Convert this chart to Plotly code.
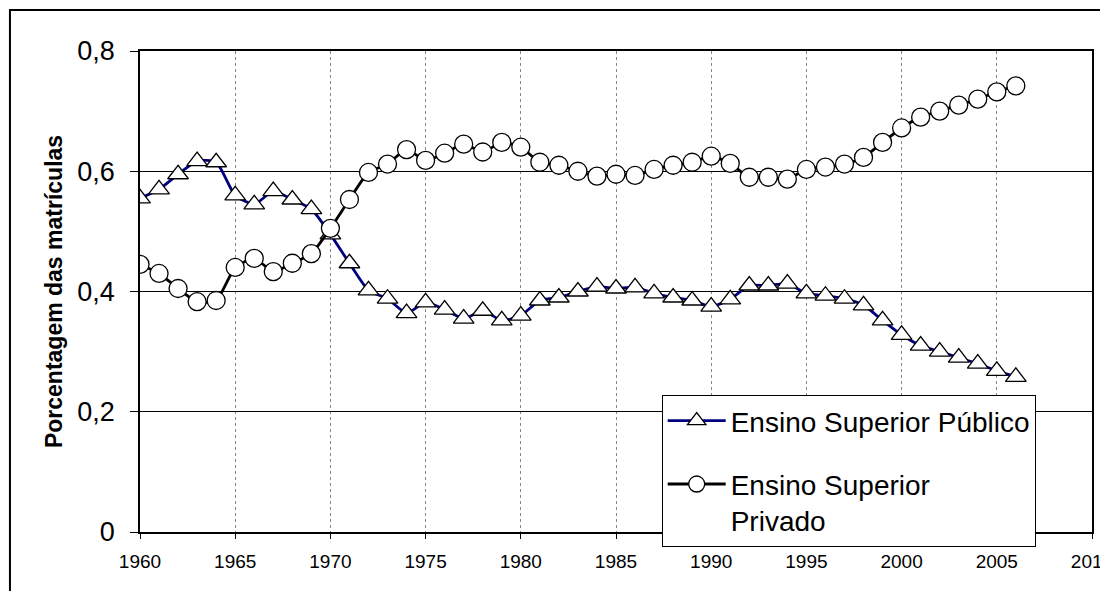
import plotly.graph_objects as go

years = list(range(1960, 2007))
publico = [0.555, 0.570, 0.595, 0.617, 0.615, 0.560, 0.545, 0.567, 0.553, 0.537,
           0.495, 0.447, 0.402, 0.388, 0.364, 0.382, 0.370, 0.355, 0.368, 0.352,
           0.360, 0.385, 0.390, 0.400, 0.408, 0.405, 0.407, 0.397, 0.390, 0.385,
           0.375, 0.387, 0.410, 0.410, 0.413, 0.397, 0.393, 0.388, 0.377, 0.352,
           0.328, 0.310, 0.300, 0.290, 0.280, 0.268, 0.258]
privado = [0.445, 0.430, 0.405, 0.383, 0.385, 0.440, 0.455, 0.433, 0.447, 0.463,
           0.505, 0.553, 0.598, 0.612, 0.636, 0.618, 0.630, 0.645, 0.632, 0.648,
           0.640, 0.615, 0.610, 0.600, 0.592, 0.595, 0.593, 0.603, 0.610, 0.615,
           0.625, 0.613, 0.590, 0.590, 0.587, 0.603, 0.607, 0.612, 0.623, 0.648,
           0.672, 0.690, 0.700, 0.710, 0.720, 0.732, 0.742]
y_ticks = [0, 0.2, 0.4, 0.6, 0.8]
y_tick_labels = ["0", "0,2", "0,4", "0,6", "0,8"]
x_ticks = list(range(1960, 2011, 5))

FONT = "Arial, Liberation Sans, sans-serif"

fig = go.Figure()
fig.add_trace(go.Scatter(
    x=years, y=publico, name="Ensino Superior Público", legendgroup="pub",
    mode="lines+markers",
    line=dict(color="#000080", width=2.8, shape="spline", smoothing=0.6),
    marker=dict(symbol="triangle-up", size=18, color="white",
                line=dict(color="black", width=1.3)),
))
fig.add_trace(go.Scatter(
    x=years, y=privado, name="Ensino Superior<br>Privado", legendgroup="priv",
    mode="lines+markers",
    line=dict(color="black", width=2.8, shape="spline", smoothing=0.6),
    marker=dict(symbol="circle", size=18, color="white",
                line=dict(color="black", width=1.3)),
))

fig.update_layout(
    width=1100, height=583,
    margin=dict(l=132, r=16, t=43, b=59, autoexpand=False),
    paper_bgcolor="white", plot_bgcolor="white",
    font=dict(family=FONT, color="black"),
    showlegend=True,
    legend=dict(
        x=0.548, y=0.285, xanchor="left", yanchor="top",
        bgcolor="white", bordercolor="black", borderwidth=1,
        font=dict(size=28, family=FONT), tracegroupgap=24,
        traceorder="grouped", valign="top", itemwidth=58,
    ),
    xaxis=dict(
        range=[1960, 2010], tickvals=x_ticks, ticktext=[str(v) for v in x_ticks],
        tickfont=dict(size=19), ticks="outside", ticklen=5, tickcolor="black",
        ticklabelstandoff=6, ticklabeloverflow="allow", automargin=False,
        showgrid=True, gridcolor="#888888", griddash="dot", gridwidth=1,
        showline=True, linecolor="black", linewidth=1.5, mirror=True,
        zeroline=False,
    ),
    yaxis=dict(
        range=[0, 0.8], tickvals=y_ticks, ticktext=y_tick_labels,
        tickfont=dict(size=27), ticks="outside", ticklen=8, tickcolor="black",
        ticklabelstandoff=10, automargin=False,
        showgrid=True, gridcolor="black", gridwidth=1,
        showline=True, linecolor="black", linewidth=1.5, mirror=True,
        zeroline=False,
        title=dict(text="<b>Porcentagem das matrículas</b>",
                   font=dict(size=23, family=FONT), standoff=8),
    ),
)

# outer chart-area border
fig.add_shape(type="rect", xref="paper", yref="paper",
              x0=-0.1366, x1=1.1, y0=-0.2, y1=1.0852,
              line=dict(color="black", width=2), layer="below")

fig.write_html("out.html")
